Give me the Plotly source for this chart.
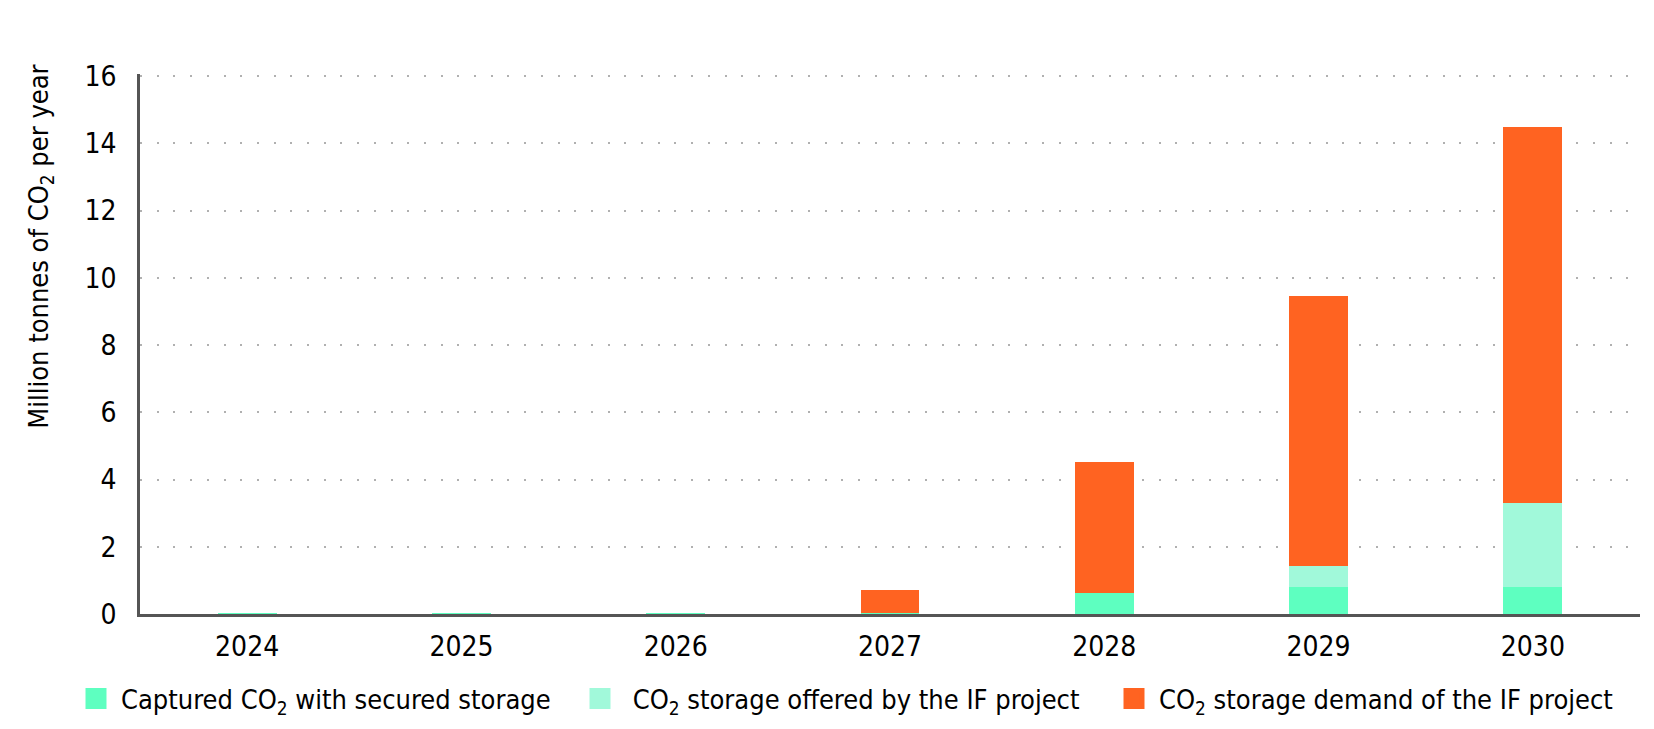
import plotly.graph_objects as go

# values (million tonnes CO2 per year)
YEARS = ["2024", "2025", "2026", "2027", "2028", "2029", "2030"]
CAPTURED = [0.02, 0.02, 0.02, 0.02, 0.62, 0.81, 0.81]
OFFERED = [0.0, 0.0, 0.0, 0.0, 0.0, 0.63, 2.50]
DEMAND = [0.0, 0.0, 0.0, 0.69, 3.89, 8.03, 11.18]

NAMES = [
    "Captured CO<sub>2</sub> with secured storage",
    " CO<sub>2</sub> storage offered by the IF project",
    "CO<sub>2</sub> storage demand of the IF project",
]
COLORS = ["#5effc0", "#a1f9da", "#ff6321"]

FONT = "DejaVu Sans Condensed, Liberation Sans Narrow, Arial Narrow, DejaVu Sans, sans-serif"

# the page body adds an 8px margin, so the figure is drawn 8px smaller
W, H = 1646, 721

fig = go.Figure()
for vals, color in zip([CAPTURED, OFFERED, DEMAND], COLORS):
    fig.add_trace(go.Bar(
        x=YEARS, y=vals, marker_color=color, marker_line_width=0,
        showlegend=False,
    ))

# separate legends so each entry sits where it does in the original
legend_x = [63, 567, 1101]
for i, (name, color) in enumerate(zip(NAMES, COLORS)):
    key = "legend" if i == 0 else f"legend{i + 1}"
    fig.add_trace(go.Scatter(
        x=[None], y=[None], mode="markers", name=name,
        marker=dict(symbol="square", size=16, color=color,
                    line=dict(color=color, width=5)),
        legend=key,
    ))
    fig.update_layout({key: dict(
        xref="container", yref="container",
        x=legend_x[i] / W, y=1 - 691 / H,
        xanchor="left", yanchor="middle",
        orientation="h", bgcolor="rgba(0,0,0,0)", itemwidth=40,
        font=dict(family=FONT, size=27, color="#000"),
    )})

fig.add_annotation(
    text="Million tonnes of CO<sub>2</sub> per year",
    xref="paper", yref="paper", x=-0.066, y=0.68,
    xanchor="center", yanchor="middle", textangle=-90,
    showarrow=False, font=dict(family=FONT, size=27, color="#000"),
)

fig.update_layout(
    width=W, height=H,
    barmode="stack", bargap=0.725,
    plot_bgcolor="white", paper_bgcolor="white",
    margin=dict(l=132, r=14, t=66, b=115),
    font=dict(family=FONT, size=28, color="#000"),
)
fig.update_xaxes(
    showline=True, linecolor="#555", linewidth=2.5,
    showgrid=False, ticks="", ticklabelstandoff=6,
    tickfont=dict(size=28),
)
fig.update_yaxes(
    range=[0, 16.06], tickvals=[0, 2, 4, 6, 8, 10, 12, 14, 16],
    showline=True, linecolor="#555", linewidth=2.5,
    showgrid=True, gridcolor="#b0b0b0", gridwidth=2, griddash="2px,14.7px",
    zeroline=False, ticks="", ticklabelstandoff=15,
    tickfont=dict(size=28),
)

fig.write_html("out.html")
